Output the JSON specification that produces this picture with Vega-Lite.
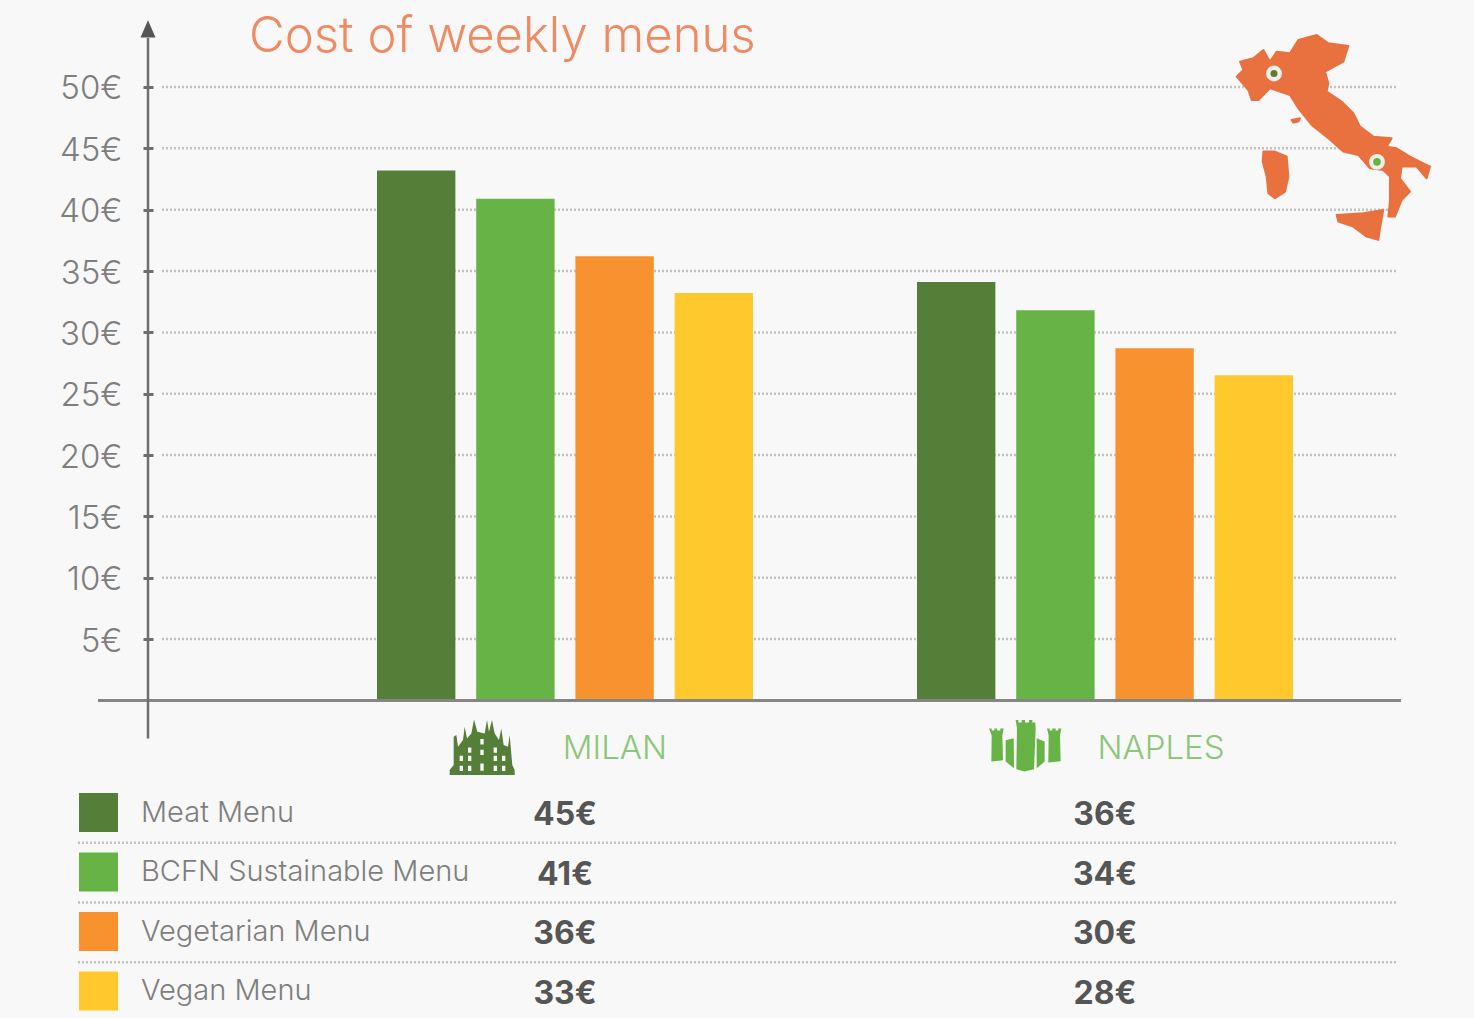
{
"$schema":"https://vega.github.io/schema/vega-lite/v6.json",
"width":1474,"height":1018,"padding":0,"autosize":"none","background":"#F8F8F8",
"title":{"text":"Cost of weekly menus","anchor":"start","frame":"group","dx":249,"dy":62,"offset":0,"fontSize":49,"font":"Inter","fontWeight":300,"color":"#EF8A62"},
"config":{"view":{"stroke":null},"font":"Inter"},
"datasets":{
"menus":[
{"city":"MILAN","menu":"Meat Menu","cost":43.2,"price":"45€"},
{"city":"MILAN","menu":"BCFN Sustainable Menu","cost":40.9,"price":"41€"},
{"city":"MILAN","menu":"Vegetarian Menu","cost":36.2,"price":"36€"},
{"city":"MILAN","menu":"Vegan Menu","cost":33.2,"price":"33€"},
{"city":"NAPLES","menu":"Meat Menu","cost":34.1,"price":"36€"},
{"city":"NAPLES","menu":"BCFN Sustainable Menu","cost":31.8,"price":"34€"},
{"city":"NAPLES","menu":"Vegetarian Menu","cost":28.7,"price":"30€"},
{"city":"NAPLES","menu":"Vegan Menu","cost":26.5,"price":"28€"}],
"ticks":[{"v":5},{"v":10},{"v":15},{"v":20},{"v":25},{"v":30},{"v":35},{"v":40},{"v":45},{"v":50}],
"seps":[{"menu":"Meat Menu"},{"menu":"BCFN Sustainable Menu"},{"menu":"Vegetarian Menu"}],
"one":[{"n":1}]
},
"layer":[
{"encoding":{"y":{"type":"quantitative","scale":{"domain":[-25.88,57.09],"nice":false,"zero":false}}},
 "layer":[
 {"data":{"name":"ticks"},"mark":{"type":"rule","stroke":"#C2C2C2","strokeWidth":2.5,"strokeDash":[2,2]},
  "encoding":{"y":{"field":"v","type":"quantitative","title":null,"scale":{"domain":[-25.88,57.09],"nice":false,"zero":false},
    "axis":{"values":[5,10,15,20,25,30,35,40,45,50],"offset":-153,"domain":false,"grid":false,"title":null,"tickSize":10,"tickWidth":3,"tickColor":"#6E6E6E","labelPadding":21,"labelOffset":2,"labelFontSize":33,"labelFont":"Inter","labelFontWeight":300,"labelColor":"#7E7E7E","labelExpr":"datum.value + '€'"}},
   "x":{"value":162},"x2":{"value":1397}}},
 {"data":{"name":"menus"},"mark":{"type":"bar"},
  "encoding":{
   "x":{"field":"city","type":"nominal","axis":null,"scale":{"type":"band","domain":["MILAN","NAPLES"],"range":[295,1375],"paddingInner":0,"paddingOuter":0}},
   "xOffset":{"field":"menu","type":"nominal","scale":{"type":"band","domain":["Meat Menu","BCFN Sustainable Menu","Vegetarian Menu","Vegan Menu"],"range":[82,458],"paddingInner":0.21,"paddingOuter":0}},
   "y":{"field":"cost","type":"quantitative","title":null},
   "color":{"field":"menu","type":"nominal","scale":{"domain":["Meat Menu","BCFN Sustainable Menu","Vegetarian Menu","Vegan Menu"],"range":["#557F38","#67B346","#F8922E","#FFC92D"]},
    "legend":{"title":null,"orient":"none","legendX":79,"legendY":793,"padding":0,"symbolType":"square","symbolSize":1521,"symbolStrokeWidth":0,"symbolOpacity":1,"rowPadding":20.5,"labelOffset":23,"labelFontSize":29,"labelFont":"Inter","labelFontWeight":300,"labelColor":"#7E7E7E","labelLimit":500}}}},
 {"data":{"name":"one"},"mark":{"type":"rule","stroke":"#858585","strokeWidth":3},"encoding":{"y":{"datum":0},"x":{"value":98},"x2":{"value":1401}}},
 {"data":{"name":"one"},"mark":{"type":"rule","stroke":"#6E6E6E","strokeWidth":2.5},"encoding":{"x":{"value":148},"y":{"datum":-3.1},"y2":{"datum":54}}},
 {"data":{"name":"one"},"mark":{"type":"point","filled":true,"opacity":1,"color":"#555555","shape":"M0,-1.3L-1,1L1,1Z","size":225},"encoding":{"x":{"value":148},"y":{"datum":54.65}}},
 {"data":{"name":"one"},"mark":{"type":"point","filled":true,"opacity":1,"color":"#E9713F","stroke":"#E9713F","strokeWidth":2,"strokeJoin":"round","size":0.444,"xOffset":230,
   "shape":"M-285,-220L-245,-230L-215,-255L-195,-220L-175,-250L-135,-245L-110,-285L-55,-300L-20,-275L40,-267L25,-220L-30,-190L-20,-155L-25,-130L20,-100L55,-65L75,-25L115,5L170,10L155,35L185,40L225,65L285,95L275,130L245,95L200,95L195,130L225,170L200,195L180,245L160,245L165,200L165,125L145,105L105,100L70,60L25,50L-20,10L-70,-30L-110,-80L-135,-120L-195,-140L-230,-105L-250,-105L-260,-135L-295,-175L-275,-195ZM-215,50L-180,50L-145,65L-140,125L-150,170L-180,190L-200,175L-205,125L-217,80ZM5,240L85,235L145,225L135,280L130,315L95,305L55,275L10,260ZM-130,-45L-105,-50L-110,-40L-125,-37Z"},
  "encoding":{"x":{"datum":"NAPLES"},"y":{"datum":46.09}}},
 {"data":{"name":"one"},"mark":{"type":"point","filled":true,"opacity":1,"color":"#F3EFE8","size":250,"xOffset":169},"encoding":{"x":{"datum":"NAPLES"},"y":{"datum":51.1}}},
 {"data":{"name":"one"},"mark":{"type":"point","filled":true,"opacity":1,"color":"#557F38","size":50,"xOffset":169},"encoding":{"x":{"datum":"NAPLES"},"y":{"datum":51.1}}},
 {"data":{"name":"one"},"mark":{"type":"point","filled":true,"opacity":1,"color":"#F3EFE8","size":250,"xOffset":272},"encoding":{"x":{"datum":"NAPLES"},"y":{"datum":43.9}}},
 {"data":{"name":"one"},"mark":{"type":"point","filled":true,"opacity":1,"color":"#67B346","size":60,"xOffset":272},"encoding":{"x":{"datum":"NAPLES"},"y":{"datum":43.9}}},
 {"data":{"name":"one"},"mark":{"type":"point","filled":true,"opacity":1,"color":"#557F38","size":0.444,"xOffset":-83,
   "shape":"M-97,85L-97,70L-85,55L-85,-30L-77,-35L-72,0L-57,-20L-52,-60L-45,-25L-32,-40L-24,-82L-14,-45L8,-40L15,-80L21,-45L30,-80L38,-40L51,-20L58,-55L65,-5L78,0L83,-35L91,55L98,70L98,85ZM-5,-23L-5,-7L5,-7L5,-23ZM-42,2L-42,18L-32,18L-32,2ZM-5,9L-5,25L5,25L5,9ZM35,2L35,18L45,18L45,2ZM-67,27L-67,43L-57,43L-57,27ZM-42,27L-42,43L-32,43L-32,27ZM35,27L35,43L45,43L45,27ZM60,27L60,43L70,43L70,27ZM-67,57L-67,73L-57,73L-57,57ZM-42,57L-42,73L-32,73L-32,57ZM-5,50L-5,72L5,72L5,50ZM35,57L35,73L45,73L45,57ZM60,57L60,73L70,73L70,57Z"},
  "encoding":{"x":{"datum":"MILAN"},"y":{"datum":-3.77}}},
 {"data":{"name":"one"},"mark":{"type":"point","filled":true,"opacity":1,"color":"#67B346","size":0.444,"xOffset":-80,
   "shape":"M-108,-50L-100,-50L-100,-44L-92,-44L-92,-50L-84,-50L-84,-44L-74,-44L-74,-50L-64,-50L-68,-30L-66,45L-101,49L-100,-30ZM-58,-15L-34,-21L-33,69L-58,49ZM-28,-76L-20,-76L-20,-68L-10,-68L-10,-76L0,-76L0,-68L12,-68L12,-76L22,-76L22,-68L30,-68L30,-76L32,-50L27,72L-2,79L-26,72L-24,-50ZM35,-21L59,-11L59,49L35,69ZM66,-50L74,-50L74,-44L82,-44L82,-50L92,-50L92,-44L100,-44L100,-50L109,-50L105,-30L107,48L70,52L71,-30Z"},
  "encoding":{"x":{"datum":"NAPLES"},"y":{"datum":-3.65}}},
 {"data":{"name":"one"},"mark":{"type":"text","dx":50,"dy":2,"fontSize":33,"fontWeight":300,"font":"Inter","color":"#8DC67A","baseline":"middle"},"encoding":{"x":{"datum":"MILAN"},"y":{"datum":-3.77},"text":{"value":"MILAN"}}},
 {"data":{"name":"one"},"mark":{"type":"text","dx":56,"dy":2,"fontSize":33,"fontWeight":300,"font":"Inter","color":"#8DC67A","baseline":"middle"},"encoding":{"x":{"datum":"NAPLES"},"y":{"datum":-3.77},"text":{"value":"NAPLES"}}}
 ]},
{"encoding":{"y":{"field":"menu","type":"nominal","axis":null,"scale":{"type":"band","domain":["Meat Menu","BCFN Sustainable Menu","Vegetarian Menu","Vegan Menu"],"range":[783,1022],"paddingInner":0,"paddingOuter":0}}},
 "layer":[
 {"data":{"name":"seps"},"mark":{"type":"rule","stroke":"#C2C2C2","strokeWidth":2.5,"strokeDash":[2,2]},
  "encoding":{"y":{"field":"menu","type":"nominal","bandPosition":1,"axis":null,"scale":{"type":"band","domain":["Meat Menu","BCFN Sustainable Menu","Vegetarian Menu","Vegan Menu"],"range":[783,1022],"paddingInner":0,"paddingOuter":0}},"x":{"value":78},"x2":{"value":1397}}},
 {"data":{"name":"menus"},"mark":{"type":"text","fontSize":32,"font":"Inter","fontWeight":700,"color":"#555555","baseline":"middle","dy":2},
  "encoding":{"x":{"field":"city","type":"nominal"},"text":{"field":"price","type":"nominal"}}}
 ]}
],
"resolve":{"scale":{"y":"independent"}}
}
